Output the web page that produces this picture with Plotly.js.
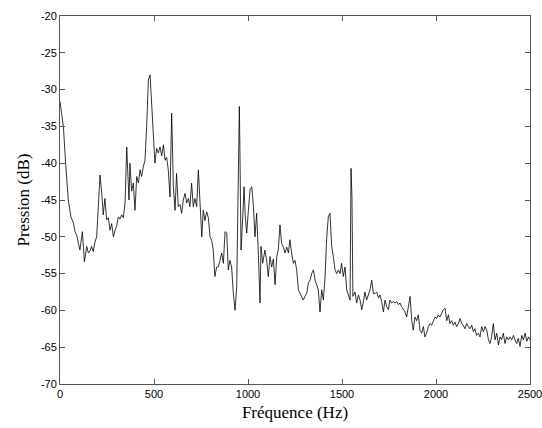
<!DOCTYPE html>
<html>
<head>
<meta charset="utf-8">
<script src="https://cdn.plot.ly/plotly-3.0.1.min.js"></script>
<style>html,body{margin:0;padding:0;background:#fff;}#chart{width:542px;height:428px;}</style>
</head>
<body>
<div id="chart"></div>
<script>
const freq = [0,18,30,44,58,71,80,89,98,106,119,130,142,151,160,168,177,186,195,204,213,222,230,239,248,257,266,275,284,293,301,310,319,328,337,346,355,360,367,372,381,390,399,408,417,426,434,443,452,461,470,479,488,496,505,514,523,532,541,550,
559,567,576,585,594,603,612,620,629,638,647,656,665,674,683,691,700,709,718,727,736,745,754,762,771,780,789,798,807,815,824,833,842,851,860,869,878,887,895,904,913,922,931,940,948,954,957,963,972,979,985,993,1002,1011,1020,1029,1037,1046,1055,1064,1069,1078,
1090,1099,1108,1117,1126,1135,1144,1153,1161,1170,1179,1188,1197,1206,1215,1223,1232,1241,1250,1259,1268,1277,1286,1294,1303,1312,1321,1330,1339,1348,1357,1366,1374,1383,1392,1401,1410,1418,1427,1436,1445,1454,1463,1472,1481,1490,1498,1507,1516,1525,1534,1543,1548,1553,1558,1569,1578,1587,1596,1605,1614,1622,1631,1640,1649,1658,1667,
1676,1685,1694,1702,1711,1720,1729,1738,1747,1755,1764,1773,1782,1791,1800,1809,1817,1826,1835,1844,1853,1862,1871,1879,1888,1897,1906,1915,1924,1933,1941,1950,1959,1968,1977,1986,1995,2003,2012,2021,2030,2039,2048,2057,2066,2074,2083,2092,2101,2110,2119,2128,2137,2145,2154,2163,2172,2181,2190,2199,2207,2216,2225,2234,2243,2252,2261,2270,2279,2287,2296,2305,2314,2323,2332,2341,2349,2358,2367,2376,2385,2394,2403,2412,2420,2429,2438,2447,2456,2465,2474,2483,2492,2500];
const pression = [-31.6,-35.0,-40.0,-45.0,-47.3,-48.1,-49.3,-49.8,-50.9,-51.8,-49.3,-53.4,-51.3,-52.2,-51.9,-51.3,-52.0,-50.7,-50.0,-45.4,-41.6,-44.1,-47.0,-44.8,-47.7,-47.4,-49.1,-48.2,-50.0,-49.1,-48.6,-47.3,-47.6,-47.0,-47.4,-45.4,-37.8,-40.9,-45.0,-40.0,-43.8,-42.7,-46.4,-41.8,-42.7,-40.9,-41.8,-40.5,-39.6,-35.0,-28.7,-28.0,-31.4,-35.9,-40.0,-38.0,-38.6,-37.8,-39.0,-37.5,
-39.6,-39.2,-40.9,-44.6,-33.2,-43.2,-46.4,-41.4,-45.9,-45.6,-46.8,-45.0,-44.1,-45.4,-44.8,-45.9,-42.7,-45.9,-44.8,-45.9,-40.9,-45.0,-50.0,-46.4,-47.8,-46.6,-47.4,-50.0,-50.5,-51.8,-55.4,-54.1,-54.1,-53.2,-52.2,-53.6,-49.3,-49.5,-54.5,-53.2,-54.1,-57.7,-60.0,-56.8,-45.0,-32.3,-38.2,-51.8,-47.3,-43.2,-47.0,-49.5,-46.4,-43.6,-43.2,-45.9,-50.0,-46.8,-52.2,-59.0,-51.3,-53.6,
-51.8,-53.2,-55.4,-52.7,-54.1,-53.0,-56.5,-52.7,-51.8,-48.4,-50.9,-51.4,-52.2,-51.4,-52.2,-50.4,-52.2,-53.6,-53.2,-54.5,-57.2,-57.7,-58.1,-58.6,-58.1,-57.7,-56.3,-55.9,-55.0,-54.5,-55.9,-56.8,-57.2,-60.2,-57.2,-58.6,-55.4,-50.4,-47.3,-46.8,-51.3,-52.7,-54.5,-55.0,-54.5,-55.0,-53.6,-55.4,-54.1,-57.2,-58.1,-58.6,-40.7,-44.6,-58.1,-57.5,-59.0,-57.9,-58.6,-59.9,-58.8,-57.5,-58.6,-57.9,-57.2,-55.9,-57.7,
-57.7,-57.5,-58.3,-57.9,-58.8,-60.2,-58.6,-59.5,-59.9,-58.6,-59.0,-58.8,-59.0,-58.8,-59.2,-59.0,-59.5,-59.9,-60.2,-60.9,-59.5,-58.1,-61.4,-62.7,-60.9,-61.4,-60.6,-62.7,-63.1,-62.2,-63.6,-63.1,-62.2,-61.8,-62.0,-61.4,-60.9,-61.1,-60.6,-60.9,-60.4,-59.9,-59.7,-61.4,-60.6,-61.8,-61.4,-62.0,-61.6,-62.2,-61.8,-61.1,-61.8,-62.0,-62.5,-61.8,-62.2,-62.5,-62.0,-62.9,-62.5,-63.4,-63.1,-63.6,-62.2,-62.9,-62.2,-62.7,-64.0,-64.5,-63.6,-61.8,-64.0,-63.1,-64.7,-63.6,-64.0,-63.1,-64.5,-63.6,-64.0,-63.6,-64.0,-63.4,-64.0,-64.5,-63.8,-64.9,-63.4,-64.0,-63.1,-64.2,-63.6,-64.0];
const xTicks = [0,500,1000,1500,2000,2500];
const xTickText = ['0','500','1000','1500','2000','2500'];
const yTicks = [-70,-65,-60,-55,-50,-45,-40,-35,-30,-25,-20];
const yTickText = ['-70','-65','-60','-55','-50','-45','-40','-35','-30','-25','-20'];

const axisCommon = {
  showgrid:false, zeroline:false, showline:true, mirror:'ticks',
  linecolor:'#555', linewidth:1, ticks:'inside', ticklen:5, tickcolor:'#555',
  ticklabeloverflow:'allow',
  tickfont:{family:'Liberation Sans, Arial, sans-serif', size:11, color:'#000'}
};
const layout = {
  width:542, height:428,
  margin:{l:60, r:12, t:16, b:44},
  paper_bgcolor:'#fff', plot_bgcolor:'#fff',
  showlegend:false,
  xaxis:Object.assign({}, axisCommon, {
    range:[0,2500], tickmode:'array', tickvals:xTicks, ticktext:xTickText,
    title:{text:'Fréquence (Hz)', font:{family:'Liberation Serif, Times New Roman, serif', size:17, color:'#000'}, standoff:6}
  }),
  yaxis:Object.assign({}, axisCommon, {
    range:[-70,-20], tickmode:'array', tickvals:yTicks, ticktext:yTickText,
    title:{text:'Pression (dB)', font:{family:'Liberation Serif, Times New Roman, serif', size:17, color:'#000'}, standoff:6}
  })
};
Plotly.newPlot('chart', [{
  x:freq, y:pression, type:'scatter', mode:'lines',
  line:{color:'#000', width:0.8}
}], layout, {staticPlot:true, displayModeBar:false});
</script>
</body>
</html>
